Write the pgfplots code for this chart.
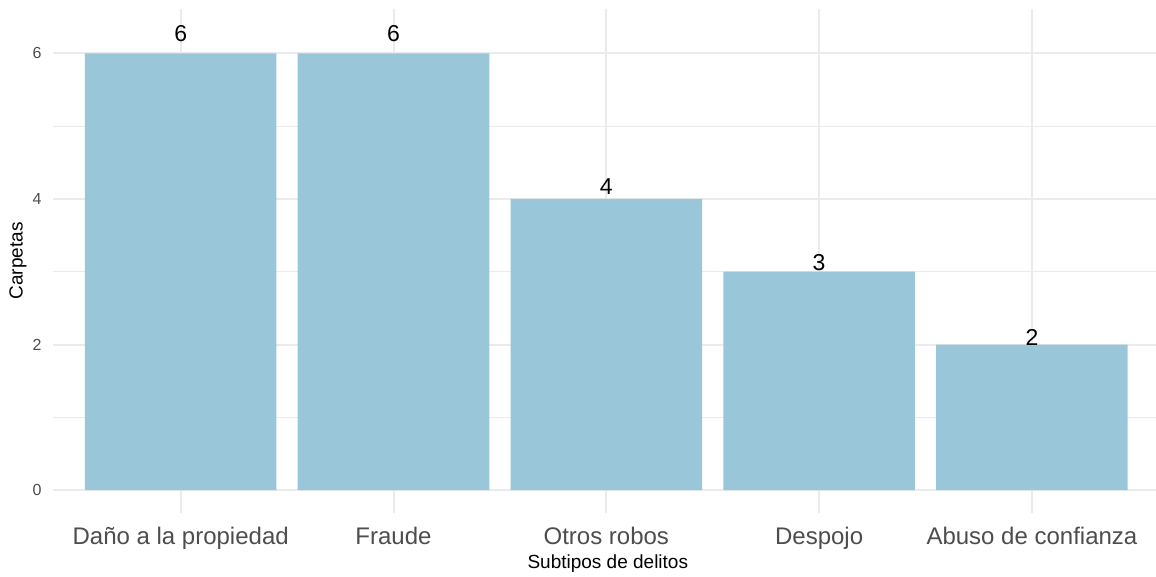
\documentclass[border=0pt]{standalone}
\usepackage{fontspec}
\setmainfont{Liberation Sans}
\usepackage{pgfplots}
\pgfplotsset{compat=1.18}
\definecolor{barblue}{RGB}{154,198,217}
\definecolor{gridgray}{RGB}{235,235,235}
\definecolor{ticktext}{RGB}{77,77,77}
\begin{document}
\begin{tikzpicture}
\path[use as bounding box] (-26.5pt,-32pt) rectangle (551.5pt,256.5pt);
\begin{axis}[
  at={(0,0)}, anchor=south west,
  scale only axis,
  width=551.5pt, height=252.2pt,
  xmin=0.4, xmax=5.583,
  ymin=-0.315, ymax=6.615,
  xtick={1,2,3,4,5},
  xticklabels={Daño a la propiedad,Fraude,Otros robos,Despojo,Abuso de confianza},
  ytick={0,2,4,6},
  minor ytick={1,3,5},
  xmajorgrids, ymajorgrids, yminorgrids,
  major grid style={draw=gridgray, line width=1pt},
  minor grid style={draw=gridgray, line width=0.5pt},
  axis line style={draw=none},
  major tick length=0pt, minor tick length=0pt,
  tick style={draw=none},
  /pgf/number format/assume math mode=true,
  xticklabel style={font=\fontsize{12}{14}\selectfont, text=ticktext, anchor=north, inner sep=0pt, yshift=-7pt},
  yticklabel style={font=\fontsize{8}{10}\selectfont, text=ticktext, anchor=east, inner sep=0pt, xshift=-5.5pt},
  xlabel={Subtipos de delitos},
  ylabel={Carpetas},
  xlabel style={font=\fontsize{9.5}{11}\selectfont, at={(axis description cs:0.503,-0.1011)}, anchor=center, inner sep=0pt},
  ylabel style={font=\fontsize{9.5}{11}\selectfont, at={(axis description cs:-0.0317,0.5)}, anchor=center, inner sep=0pt},
  clip=false,
]
\addplot[ybar, bar width=0.9, fill=barblue, draw=none] coordinates {
  (1,6) (2,6) (3,4) (4,3) (5,2)
};
\addplot[only marks, mark=none, nodes near coords, point meta=explicit symbolic,
  every node near coord/.style={anchor=center, inner sep=0pt, font=\fontsize{11.5}{13}\selectfont, text=black}]
  coordinates {
  (1,6.27) [6]
  (2,6.27) [6]
  (3,4.17) [4]
  (4,3.13) [3]
  (5,2.09) [2]
};
\end{axis}
\end{tikzpicture}
\end{document}
